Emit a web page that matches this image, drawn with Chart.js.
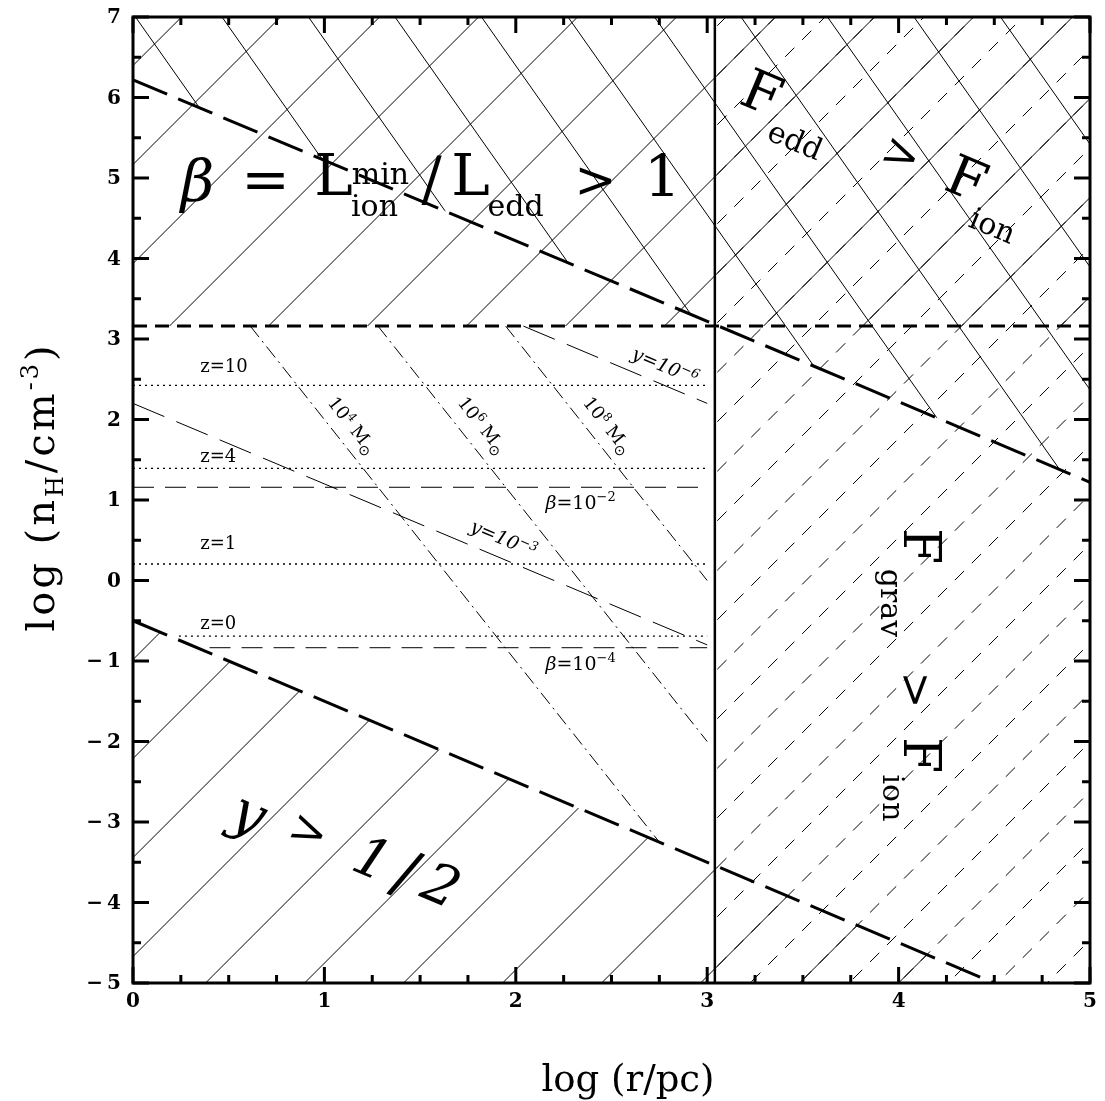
<!DOCTYPE html>
<html>
<head>
<meta charset="utf-8">
<script src="https://cdn.jsdelivr.net/npm/chart.js@4.4.1/dist/chart.umd.min.js"></script>
<style>
html, body { margin: 0; padding: 0; background: #fff; }
#wrap { width: 1105px; height: 1101px; }
</style>
</head>
<body>
<div id="wrap"><canvas id="chart" width="1105" height="1101"></canvas></div>
<script>
// axes
const xLimits = [0, 5];
const yLimits = [-5, 7];
const xTickValues = [0, 1, 2, 3, 4, 5];
const yTickValues = [-5, -4, -3, -2, -1, 0, 1, 2, 3, 4, 5, 6, 7];
const xMinorStep = 0.25;
const yMinorStep = 0.5;

// region boundaries
const betaOneLevel = 3.16;          // beta = 1
const fluxSplitX = 3.04;            // F_grav = F_ion
const eddLineX = [0, 5];
const eddLineY = [6.22, 1.22];
const halfLineX = [0, 4.5];
const halfLineY = [-0.5, -5];

// redshift lines (dotted)
const zNames = ['z=10', 'z=4', 'z=1', 'z=0'];
const zLevels = [2.425, 1.394, 0.205, -0.69];
const zFrom = [0, 0, 0, 0.24];
const zTo = [3.0, 3.0, 3.0, 3.0];

// beta lines (dashed)
const betaExps = ['−2', '−4'];
const betaLevels = [1.158, -0.835];
const betaFrom = [0, 0.40];
const betaTo = [3.0, 3.0];

// y (comptonisation) lines
const yExps = ['−3', '−6'];
const yLineX = [[0, 3.0], [2.04, 3.0]];
const yLineY = [[2.2, -0.8], [3.16, 2.2]];

// black hole mass lines
const massExps = ['4', '6', '8'];
const massLineX = [[0.613, 2.75], [1.28, 3.0], [1.947, 3.0]];
const massLineY = [[3.16, -3.25], [3.16, -2.0], [3.16, 0.0]];

// hatched regions
const betaRegion = [[0, betaOneLevel], [5, betaOneLevel], [5, 7], [0, 7]];
const eddRegion = [[0, 6.22], [5, 1.22], [5, 7], [0, 7]];
const halfRegion = [[0, -0.5], [4.5, -5], [0, -5]];
const gravRegion = [[fluxSplitX, -5], [5, -5], [5, 7], [fluxSplitX, 7]];

const SERIF = '"DejaVu Serif", serif';
const f = (size, style) => (style ? style + ' ' : '') + size + 'px ' + SERIF;
const TICK_FONT = 'bold 20px "DejaVu Serif", serif';

const hatches = [
    { region: betaRegion, slope: -1, step: 99, through: [0.379, -5] },
    { region: halfRegion, slope: -1, step: 99, through: [0.379, -5] },
    { region: eddRegion, slope: 1.42, step: 86.5, through: [0.013, 7] },
    { region: gravRegion, slope: -1, step: 49.5, through: [0.379, -5], dash: [13, 11] }
];

// small labels: [x, y] in data units, angle in degrees
const zLabelAt = [[0.351, 2.66], [0.351, 1.547], [0.351, 0.46], [0.351, -0.534]];
const betaLabelAt = [[2.155, 0.969], [2.155, -1.019]];
const yLabelAt = [[1.936, 0.516], [2.78, 2.66]];
const massLabelAt = [[1.146, 1.93], [1.825, 1.93], [2.48, 1.93]];
const shallow = 22.8, steep = 51.6;

const bigLabels = [
    { at: [0.337, 4.901], angle: 0, pieces: [
        { t: 'β', font: f(58, 'italic'), u: 0, v: 0 },
        { t: '=', font: f(58), u: 68, v: -2 },
        { t: 'L', font: f(58), u: 136, v: -6 },
        { t: 'min', font: f(30), u: 183, v: -10 },
        { t: 'ion', font: f(30), u: 177, v: 22 },
        { t: '/', font: f(60), u: 234, v: -3 },
        { t: 'L', font: f(58), u: 273, v: -6 },
        { t: 'edd', font: f(30), u: 318, v: 22 },
        { t: '>', font: f(50), u: 398, v: -2 },
        { t: '1', font: f(58), u: 465, v: -5 }
    ]},
    { at: [3.278, 6.006], angle: shallow, pieces: [
        { t: 'F', font: f(55), u: 0, v: 0 },
        { t: 'edd', font: f(30), u: 49, v: 29 },
        { t: '>', font: f(46), u: 152, v: 1 },
        { t: 'F', font: f(55), u: 222, v: 0 },
        { t: 'ion', font: f(30), u: 264, v: 31 }
    ]},
    { at: [4.099, 0.429], angle: 90, pieces: [
        { t: 'F', font: f(52), u: 0, v: 0 },
        { t: 'grav', font: f(30), u: 57, v: 29 },
        { t: '>', font: f(44), u: 144, v: 5 },
        { t: 'F', font: f(52), u: 209, v: 0 },
        { t: 'ion', font: f(30), u: 252, v: 27 }
    ]},
    { at: [0.598, -2.938], angle: shallow, pieces: [
        { t: 'y', font: f(56, 'italic'), u: 0, v: 0 },
        { t: '>', font: f(46), u: 62, v: -8 },
        { t: '1', font: f(55, 'italic'), u: 131, v: -6 },
        { t: '/', font: f(62), u: 168, v: -5 },
        { t: '2', font: f(55, 'italic'), u: 205, v: -8 }
    ]}
];

function seg(xs, ys) {
    return xs.map((v, i) => ({ x: v, y: ys[i] }));
}

function line(points, width, dash) {
    return {
        data: points,
        showLine: true,
        borderColor: '#000',
        borderWidth: width,
        borderDash: dash || [],
        pointRadius: 0,
        fill: false,
        tension: 0
    };
}

let datasets = [
    line(seg([xLimits[0], xLimits[1]], [betaOneLevel, betaOneLevel]), 3, [14, 8]),
    line(seg([fluxSplitX, fluxSplitX], [yLimits[0], yLimits[1]]), 2.5),
    line(seg(eddLineX, eddLineY), 3, [37, 12]),
    line(seg(halfLineX, halfLineY), 3, [37, 12])
];
zLevels.forEach((lv, i) => datasets.push(line(seg([zFrom[i], zTo[i]], [lv, lv]), 1.3, [2, 4])));
betaLevels.forEach((lv, i) => datasets.push(line(seg([betaFrom[i], betaTo[i]], [lv, lv]), 1, [21, 11])));
yLineX.forEach((xs, i) => datasets.push(line(seg(xs, yLineY[i]), 1, [34, 13])));
massLineX.forEach((xs, i) => datasets.push(line(seg(xs, massLineY[i]), 1, [14, 5, 2, 5])));

function drawPieces(ctx, cx, cy, angle, pieces) {
    ctx.save();
    ctx.translate(cx, cy);
    ctx.rotate(angle * Math.PI / 180);
    ctx.textAlign = 'center';
    ctx.textBaseline = 'middle';
    pieces.forEach(p => {
        ctx.font = p.font;
        ctx.fillText(p.t, p.u, p.v);
    });
    ctx.restore();
}

// runs are placed one after another on a common baseline
function drawRuns(ctx, x, y, angle, runs, align, drop, spacing) {
    ctx.save();
    ctx.translate(x, y);
    ctx.rotate(angle * Math.PI / 180);
    ctx.textAlign = 'left';
    ctx.textBaseline = 'alphabetic';
    ctx.letterSpacing = (spacing || 0) + 'px';
    let w = 0;
    runs.forEach(r => { ctx.font = r.font; w += ctx.measureText(r.t).width; });
    let cx = align === 'center' ? -w / 2 : 0;
    runs.forEach(r => {
        ctx.font = r.font;
        ctx.fillText(r.t, cx, drop - (r.rise || 0));
        cx += ctx.measureText(r.t).width;
    });
    ctx.restore();
}

const hatchPlugin = {
    id: 'hatch',
    beforeDatasetsDraw(chart) {
        const { ctx, chartArea: a, scales: { x, y } } = chart;
        hatches.forEach(h => {
            ctx.save();
            ctx.beginPath();
            ctx.rect(a.left, a.top, a.right - a.left, a.bottom - a.top);
            ctx.clip();
            ctx.beginPath();
            h.region.forEach((p, i) => {
                const px = x.getPixelForValue(p[0]), py = y.getPixelForValue(p[1]);
                if (i === 0) ctx.moveTo(px, py); else ctx.lineTo(px, py);
            });
            ctx.closePath();
            ctx.clip();
            ctx.strokeStyle = '#000';
            ctx.lineWidth = 1;
            ctx.setLineDash(h.dash || []);
            const x0 = x.getPixelForValue(h.through[0]);
            const y0 = y.getPixelForValue(h.through[1]);
            const xa = a.left - 400, xb = a.right + 400;
            ctx.beginPath();
            for (let k = -40; k <= 40; k++) {
                const xk = x0 + k * h.step;
                // start at the lower end so dashes begin at the bottom
                const ya = y0 + h.slope * (xa - xk), yb = y0 + h.slope * (xb - xk);
                if (ya > yb) { ctx.moveTo(xa, ya); ctx.lineTo(xb, yb); }
                else { ctx.moveTo(xb, yb); ctx.lineTo(xa, ya); }
            }
            ctx.stroke();
            ctx.restore();
        });
    }
};

const labelPlugin = {
    id: 'labels',
    afterDatasetsDraw(chart) {
        const { ctx, scales: { x, y } } = chart;
        const X = v => x.getPixelForValue(v), Y = v => y.getPixelForValue(v);
        ctx.save();
        ctx.fillStyle = '#000';
        zNames.forEach((t, i) => {
            drawRuns(ctx, X(zLabelAt[i][0]), Y(zLabelAt[i][1]), 0, [{ t: t, font: f(18) }], 'left', 6);
        });
        betaExps.forEach((e, i) => {
            drawRuns(ctx, X(betaLabelAt[i][0]), Y(betaLabelAt[i][1]), 0, [
                { t: 'β', font: f(19, 'italic') },
                { t: '=10', font: f(19) },
                { t: e, font: f(13), rise: 8 }
            ], 'left', 7);
        });
        yExps.forEach((e, i) => {
            drawRuns(ctx, X(yLabelAt[i][0]), Y(yLabelAt[i][1]), shallow, [
                { t: 'y', font: f(19, 'italic') },
                { t: '=10', font: f(19, 'italic') },
                { t: e, font: f(13, 'italic'), rise: 7 }
            ], 'center', 6);
        });
        massExps.forEach((e, i) => {
            drawRuns(ctx, X(massLabelAt[i][0]), Y(massLabelAt[i][1]), steep, [
                { t: '10', font: f(18) },
                { t: e, font: f(12), rise: 7 },
                { t: ' M', font: f(18) },
                { t: '⊙', font: '14px "DejaVu Sans"', rise: -5 }
            ], 'center', 6);
        });
        bigLabels.forEach(b => drawPieces(ctx, X(b.at[0]), Y(b.at[1]), b.angle, b.pieces));
        ctx.restore();
    }
};

const fmt = v => (v < 0 ? '−\u2009' + Math.abs(v) : String(v));

const framePlugin = {
    id: 'frame',
    afterDraw(chart) {
        const { ctx, chartArea: a, scales: { x, y } } = chart;
        ctx.save();
        ctx.strokeStyle = '#000';
        ctx.lineWidth = 3;
        ctx.setLineDash([]);
        ctx.strokeRect(a.left, a.top, a.right - a.left, a.bottom - a.top);
        ctx.beginPath();
        const nx = Math.round((xLimits[1] - xLimits[0]) / xMinorStep);
        for (let i = 0; i <= nx; i++) {
            const len = i % 4 === 0 ? 16 : 8;
            const p = x.getPixelForValue(xLimits[0] + i * xMinorStep);
            ctx.moveTo(p, a.bottom); ctx.lineTo(p, a.bottom - len);
            ctx.moveTo(p, a.top); ctx.lineTo(p, a.top + len);
        }
        const ny = Math.round((yLimits[1] - yLimits[0]) / yMinorStep);
        for (let i = 0; i <= ny; i++) {
            const len = i % 2 === 0 ? 16 : 8;
            const p = y.getPixelForValue(yLimits[0] + i * yMinorStep);
            ctx.moveTo(a.left, p); ctx.lineTo(a.left + len, p);
            ctx.moveTo(a.right, p); ctx.lineTo(a.right - len, p);
        }
        ctx.stroke();

        // tick labels
        ctx.fillStyle = '#000';
        ctx.font = TICK_FONT;
        ctx.textBaseline = 'middle';
        ctx.textAlign = 'center';
        x.ticks.forEach(t => ctx.fillText(fmt(t.value), x.getPixelForValue(t.value), a.bottom + 19));
        ctx.textAlign = 'right';
        y.ticks.forEach(t => ctx.fillText(fmt(t.value), a.left - 12, y.getPixelForValue(t.value) + 1));

        // axis titles
        drawRuns(ctx, 628, 1091, 0, [{ t: 'log (r/pc)', font: f(37) }], 'center', 0, 0);
        drawRuns(ctx, 54, 487, -90, [
            { t: 'log (n', font: f(40) },
            { t: 'H', font: f(24), rise: -9 },
            { t: '/cm', font: f(40) },
            { t: '-3', font: f(24), rise: 16 },
            { t: ')', font: f(40) }
        ], 'center', 0, 3);
        ctx.restore();
    }
};

new Chart(document.getElementById('chart'), {
    type: 'scatter',
    data: { datasets: datasets },
    options: {
        responsive: false,
        animation: false,
        devicePixelRatio: 1,
        layout: { padding: { top: 17, right: 15, left: 0, bottom: 0 } },
        plugins: { legend: { display: false }, tooltip: { enabled: false } },
        scales: {
            x: {
                type: 'linear', min: xLimits[0], max: xLimits[1],
                afterFit: s => { s.height = 118; },
                afterBuildTicks: s => { s.ticks = xTickValues.map(v => ({ value: v })); },
                grid: { display: false }, border: { display: false },
                ticks: { display: false }
            },
            y: {
                type: 'linear', min: yLimits[0], max: yLimits[1],
                afterFit: s => { s.width = 133; },
                afterBuildTicks: s => { s.ticks = yTickValues.map(v => ({ value: v })); },
                grid: { display: false }, border: { display: false },
                ticks: { display: false }
            }
        }
    },
    plugins: [hatchPlugin, labelPlugin, framePlugin]
});
</script>
</body>
</html>
